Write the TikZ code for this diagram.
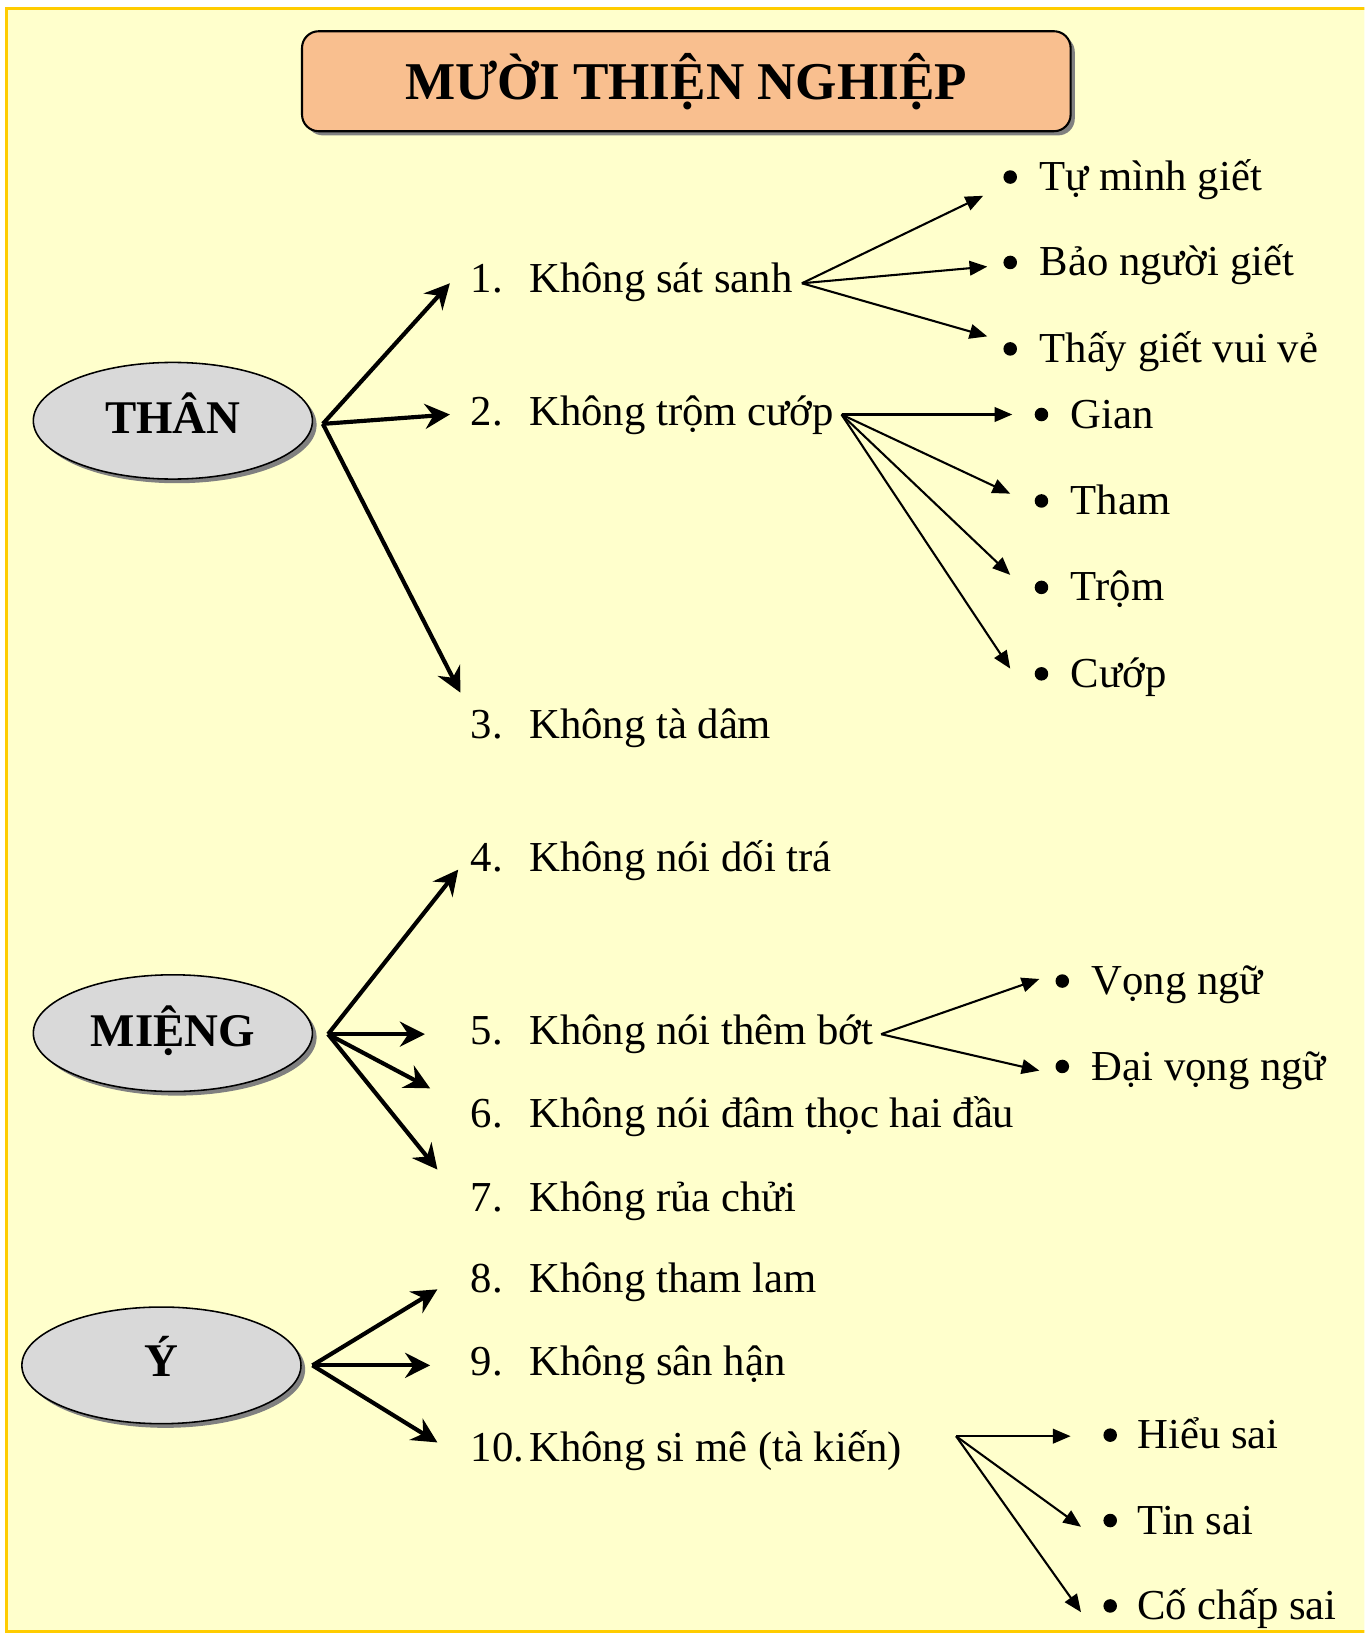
\documentclass[tikz,border=0pt]{standalone}
\usepackage{fontspec}
\setmainfont{Liberation Serif}
\usetikzlibrary{arrows.meta,shapes.geometric,shadows}
\definecolor{bgyel}{HTML}{FFFFCC}
\definecolor{bord}{HTML}{FFCC00}
\definecolor{peach}{HTML}{F9BF8F}
\definecolor{ellgray}{HTML}{D9D9D9}
\definecolor{shad}{HTML}{808080}
\begin{document}
\begin{tikzpicture}[x=1pt,y=-1pt,
  item/.style={anchor=base west,inner sep=0pt,font=\fontsize{41}{48}\selectfont},
  dot/.style={circle,fill=black,inner sep=0pt,minimum size=13pt},
  titlebox/.style={draw,line width=2pt,fill=peach,rounded corners=16pt,minimum width=738pt,minimum height=96pt,
     font=\fontsize{51}{60}\selectfont\bfseries,
     drop shadow={shadow xshift=4pt,shadow yshift=-4pt,fill=shad,opacity=1}},
  ell/.style={ellipse,draw,line width=1.5pt,fill=ellgray,minimum width=268pt,minimum height=112pt,inner sep=0pt,
     drop shadow={shadow xshift=4pt,shadow yshift=-4pt,fill=shad,opacity=1}},
  elltext/.style={anchor=base,inner sep=0pt,font=\fontsize{45}{54}\selectfont\bfseries},
  thick/.style={line width=4pt,-{Stealth[length=24pt,width=24pt,inset=8pt]}},
  thin/.style={line width=2pt,-{Triangle[length=17pt,width=14pt]}}
]
\useasboundingbox (0,0) rectangle (1310,1568);
\clip (0,0) rectangle (1310,1568);
\draw[bord,line width=3pt,fill=bgyel] (6,8) rectangle (1330,1566.5);

% title
\node[titlebox] (title) at (659,78) {MƯỜI THIỆN NGHIỆP};

% ellipses
\node[ell] (than) at (166,404) {};
\node[elltext] (thanT) at (166,416) {THÂN};
\node[ell] (mieng) at (166,992) {};
\node[elltext] (miengT) at (166,1005) {MIỆNG};
\node[ell] (y) at (155,1311) {};
\node[elltext] (yT) at (155,1322) {Ý};

% main items
\node[item] (n1) at (452,281) {1.};  \node[item] (t1) at (508,281) {Không sát sanh};
\node[item] (n2) at (452,409) {2.};  \node[item] (t2) at (508,409) {Không trộm cướp};
\node[item] (n3) at (452,709) {3.};  \node[item] (t3) at (508,709) {Không tà dâm};
\node[item] (n4) at (452,837) {4.};  \node[item] (t4) at (508,837) {Không nói dối trá};
\node[item] (n5) at (452,1003) {5.}; \node[item] (t5) at (508,1003) {Không nói thêm bớt};
\node[item] (n6) at (452,1083) {6.}; \node[item] (t6) at (508,1083) {Không nói đâm thọc hai đầu};
\node[item] (n7) at (452,1163) {7.}; \node[item] (t7) at (508,1163) {Không rủa chửi};
\node[item] (n8) at (452,1241) {8.}; \node[item] (t8) at (508,1241) {Không tham lam};
\node[item] (n9) at (452,1321) {9.}; \node[item] (t9) at (508,1321) {Không sân hận};
\node[item] (n10) at (452,1403) {10.}; \node[item] (t10) at (508,1403) {Không si mê (tà kiến)};

% sub bullets
\node[dot] (d11) at (970,170) {}; \node[item] (s11) at (998,183) {Tự mình giết};
\node[dot] (d12) at (970,252) {}; \node[item] (s12) at (998,265) {Bảo người giết};
\node[dot] (d13) at (970,335) {}; \node[item] (s13) at (998,348) {Thấy giết vui vẻ};
\node[dot] (d21) at (1000,398) {}; \node[item] (s21) at (1028,411) {Gian};
\node[dot] (d22) at (1000,481) {}; \node[item] (s22) at (1028,494) {Tham};
\node[dot] (d23) at (1000,564) {}; \node[item] (s23) at (1028,577) {Trộm};
\node[dot] (d24) at (1000,647) {}; \node[item] (s24) at (1028,660) {Cướp};
\node[dot] (d51) at (1020,942) {}; \node[item] (s51) at (1048,955) {Vọng ngữ};
\node[dot] (d52) at (1020,1024) {}; \node[item] (s52) at (1048,1037) {Đại vọng ngữ};
\node[dot] (d101) at (1066,1378) {}; \node[item] (s101) at (1092,1391) {Hiểu sai};
\node[dot] (d102) at (1066,1460) {}; \node[item] (s102) at (1092,1473) {Tin sai};
\node[dot] (d103) at (1066,1542) {}; \node[item] (s103) at (1092,1555) {Cố chấp sai};

% origins and targets
\coordinate (oT) at (310,407);
\coordinate (oM) at (315,993);
\coordinate (oY) at (300,1311);
\coordinate (a1) at (432,272);
\coordinate (a2) at (432,398);
\coordinate (a3) at (442,665);
\coordinate (a4) at (440,835);
\coordinate (a5) at (408,993);
\coordinate (a6) at (413,1045);
\coordinate (a7) at (420,1123);
\coordinate (a8) at (420,1238);
\coordinate (a9) at (413,1311);
\coordinate (a10) at (420,1385);

\coordinate (o1) at (770,272);
\coordinate (o2) at (808,398);
\coordinate (o5) at (846,993);
\coordinate (o10) at (918,1379);
\coordinate (b11) at (944,188);
\coordinate (b12) at (948,256);
\coordinate (b13) at (948,323);
\coordinate (b21) at (972,398);
\coordinate (b22) at (970,474);
\coordinate (b23) at (970,552);
\coordinate (b24) at (970,642);
\coordinate (b51) at (998,940);
\coordinate (b52) at (998,1028);
\coordinate (b101) at (1028,1379);
\coordinate (b102) at (1038,1466);
\coordinate (b103) at (1038,1548);

\foreach \t in {a1,a2,a3} \draw[thick] (oT) -- (\t);
\foreach \t in {a4,a5,a6,a7} \draw[thick] (oM) -- (\t);
\foreach \t in {a8,a9,a10} \draw[thick] (oY) -- (\t);

\foreach \t in {b11,b12,b13} \draw[thin] (o1) -- (\t);
\foreach \t in {b21,b22,b23,b24} \draw[thin] (o2) -- (\t);
\foreach \t in {b51,b52} \draw[thin] (o5) -- (\t);
\foreach \t in {b101,b102,b103} \draw[thin] (o10) -- (\t);
\end{tikzpicture}
\end{document}
